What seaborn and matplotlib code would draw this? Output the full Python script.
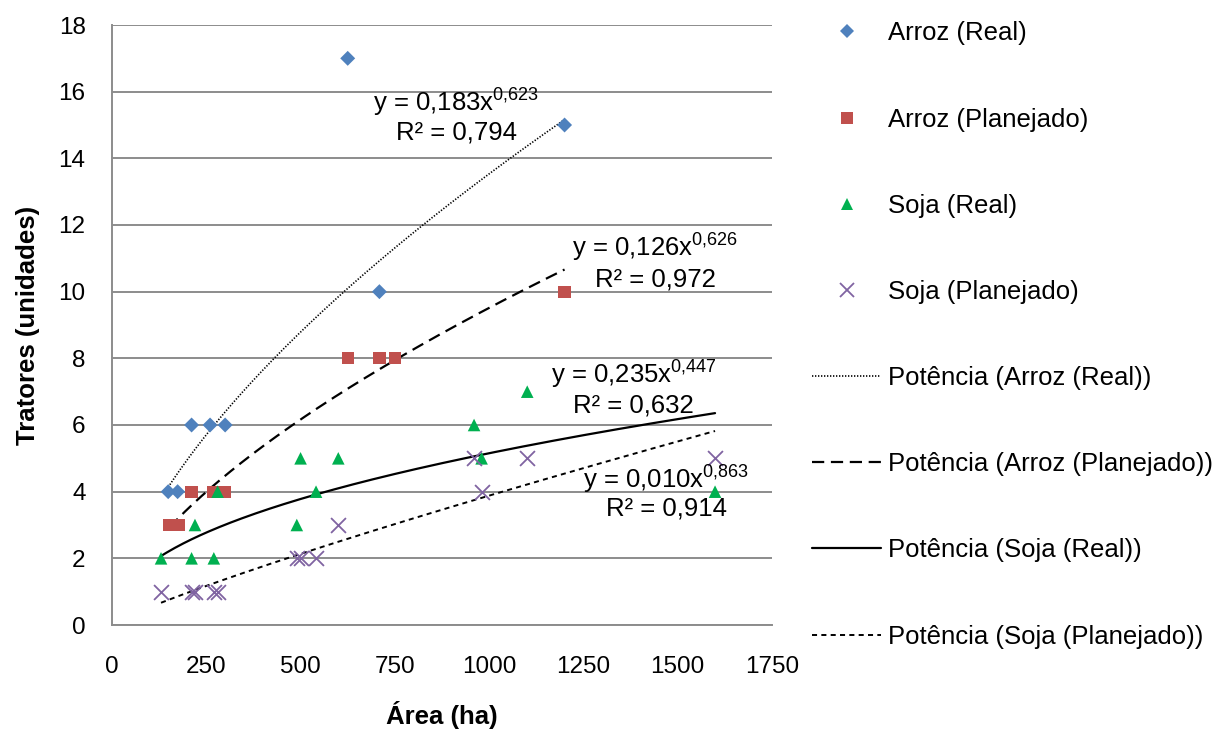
import numpy as np
import pandas as pd
import matplotlib
matplotlib.use("Agg")
import matplotlib.pyplot as plt
from matplotlib.lines import Line2D
import seaborn as sns

# ---------------- data ----------------
arroz_real_x = [149, 174, 211, 260, 300, 625, 709, 1200]
arroz_real_y = [4, 4, 6, 6, 6, 17, 10, 15]

arroz_plan_x = [152, 176, 211, 267, 300, 625, 709, 750, 1200]
arroz_plan_y = [3, 3, 4, 4, 4, 8, 8, 8, 10]

soja_real_x = [130, 211, 220, 270, 280, 490, 500, 541, 600, 960, 980, 1101, 1599]
soja_real_y = [2, 2, 3, 2, 4, 3, 5, 4, 5, 6, 5, 7, 4]

soja_plan_x = [130, 211, 220, 270, 282, 490, 500, 541, 600, 960, 980, 1101, 1599]
soja_plan_y = [1, 1, 1, 1, 1, 2, 2, 2, 3, 5, 4, 5, 5]

series_names = ["Arroz (Real)", "Arroz (Planejado)", "Soja (Real)", "Soja (Planejado)"]

# power trend lines  y = a * x^b  (coefficients as printed on the chart)
trend_a = [0.183, 0.126, 0.235, 0.010]
trend_b = [0.623, 0.626, 0.447, 0.863]
trend_a_txt = ["0,183", "0,126", "0,235", "0,010"]
trend_b_txt = ["0{,}623", "0{,}626", "0{,}447", "0{,}863"]
trend_r2_txt = ["0,794", "0,972", "0,632", "0,914"]

x_ticks = [0, 250, 500, 750, 1000, 1250, 1500, 1750]
y_ticks = [0, 2, 4, 6, 8, 10, 12, 14, 16, 18]

# ---------------- style ----------------
sns.set_theme(style="white")
plt.rcParams["font.family"] = ["Liberation Sans", "DejaVu Sans"]
plt.rcParams["mathtext.fontset"] = "custom"
plt.rcParams["mathtext.rm"] = "Liberation Sans"
plt.rcParams["mathtext.default"] = "regular"

colors = ["#4F81BD", "#C0504D", "#00B050", "#8064A2"]
markers = ["D", "s", "^", "x"]
sizes = [58, 78, 82, 115]
line_styles = [(0, (0.8, 1.0)), (0, (5.5, 3.0)), "-", (0, (2.6, 2.2))]
line_widths = [1.2, 1.6, 1.6, 1.4]
grid_col = "#8c8c8c"

fig = plt.figure(figsize=(12.25, 7.29), dpi=100)
ax = fig.add_axes([112 / 1225, 1 - 625 / 729, (772 - 112) / 1225, 600 / 729])

xs = [arroz_real_x, arroz_plan_x, soja_real_x, soja_plan_x]
ys = [arroz_real_y, arroz_plan_y, soja_real_y, soja_plan_y]

# trend lines
for i in range(4):
    xx = np.linspace(min(xs[i]), max(xs[i]), 200)
    df_t = pd.DataFrame({"x": xx, "y": trend_a[i] * xx ** trend_b[i]})
    sns.lineplot(data=df_t, x="x", y="y", ax=ax, color="black",
                 linestyle=line_styles[i], linewidth=line_widths[i], zorder=3)

# scatter points
for i in range(4):
    df = pd.DataFrame({"x": xs[i], "y": ys[i]})
    if markers[i] == "x":
        sns.scatterplot(data=df, x="x", y="y", ax=ax, marker="x", color=colors[i],
                        s=sizes[i], linewidth=1.3, zorder=4)
    else:
        sns.scatterplot(data=df, x="x", y="y", ax=ax, marker=markers[i], color=colors[i],
                        s=sizes[i], edgecolor="none", zorder=4)

ax.set_xlim(0, 1750)
ax.set_ylim(0, 18)
ax.set_xticks(x_ticks)
ax.set_yticks(y_ticks)
ax.set_xticklabels([str(v) for v in x_ticks])
ax.set_yticklabels([str(v) for v in y_ticks])
ax.tick_params(axis="x", length=0, pad=22, labelsize=17.5, colors="black")
ax.tick_params(axis="y", length=0, pad=19, labelsize=17.5, colors="black")

ax.yaxis.grid(True, color=grid_col, linewidth=1.4)
ax.xaxis.grid(False)
ax.set_axisbelow(True)
for side in ["top", "right"]:
    ax.spines[side].set_visible(False)
for side in ["left", "bottom"]:
    ax.spines[side].set_color(grid_col)
    ax.spines[side].set_linewidth(1.4)

ax.set_xlabel("Área (ha)", fontsize=18.5, fontweight="bold", color="black")
ax.set_ylabel("Tratores (unidades)", fontsize=18.5, fontweight="bold", color="black")
ax.xaxis.set_label_coords(0.5, -(715 - 625) / 600)
ax.xaxis.label.set_va("center")
ax.yaxis.set_label_coords((28 - 112) / 660, 0.5)
ax.yaxis.label.set_va("center")

# trend equations (centered, two lines)
eq_pos = [(913, 15.39, 14.55), (1440, 11.05, 10.15), (1383, 7.23, 6.38), (1469, 4.10, 3.28)]
for i, (ex, ey1, ey2) in enumerate(eq_pos):
    ax.text(ex, ey1, "y = " + trend_a_txt[i] + "x$^{" + trend_b_txt[i] + "}$",
            ha="center", va="baseline", fontsize=18.5, color="black", zorder=5)
    ax.text(ex, ey2, "R² = " + trend_r2_txt[i],
            ha="center", va="baseline", fontsize=18.5, color="black", zorder=5)

# legend
handles = []
labels = []
for i in range(4):
    if markers[i] == "x":
        h = Line2D([], [], marker="x", color=colors[i], linestyle="none",
                   markersize=np.sqrt(sizes[i]), markeredgewidth=1.3)
    else:
        h = Line2D([], [], marker=markers[i], color=colors[i], linestyle="none",
                   markersize=np.sqrt(sizes[i]), markeredgewidth=0)
    handles.append(h)
    labels.append(series_names[i])
for i in range(4):
    h = Line2D([], [], color="black", linestyle=line_styles[i], linewidth=line_widths[i])
    handles.append(h)
    labels.append("Potência (" + series_names[i] + ")")

fig.legend(handles, labels, loc="center left",
           bbox_to_anchor=(812 / 1225, 1 - 335 / 729), frameon=False,
           fontsize=18.5, labelspacing=2.42, handlelength=2.7, handletextpad=0.25,
           borderpad=0, borderaxespad=0, labelcolor="black")

fig.savefig("out.png", dpi=100)
